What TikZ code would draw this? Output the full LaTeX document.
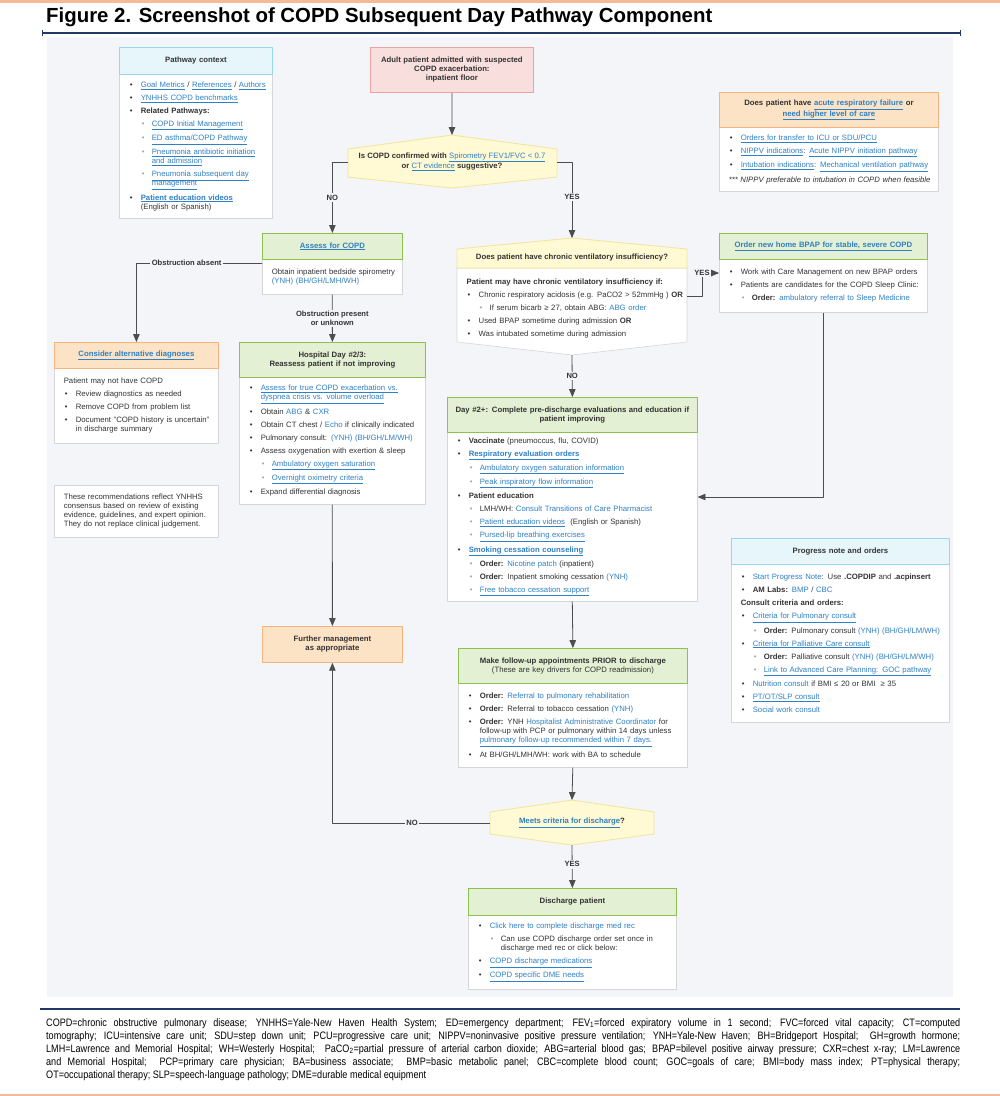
\documentclass[tikz,border=0pt]{standalone}
\usepackage{fontspec}
\setmainfont{Liberation Sans}
\newfontfamily\narrowfont[FakeStretch=0.84]{Liberation Sans}
\usetikzlibrary{arrows,calc}
\usepackage{xcolor}
\definecolor{panelbg}{HTML}{F3F5F8}
\definecolor{navy}{HTML}{1F3A68}
\definecolor{salmon}{HTML}{F6B99A}
\definecolor{txt}{HTML}{333333}
\definecolor{lnkblue}{HTML}{2F80C5}
\definecolor{subgray}{HTML}{A6A6A6}
\definecolor{bodyline}{HTML}{D6D6D6}
\definecolor{connline}{HTML}{4D4D4D}
\definecolor{grnfill}{HTML}{E3F0D3}
\definecolor{grnline}{HTML}{8CC152}
\definecolor{orgfill}{HTML}{FCE3C6}
\definecolor{orgline}{HTML}{F5B37D}
\definecolor{cyanfill}{HTML}{E6F6FB}
\definecolor{cyanline}{HTML}{96D7EE}
\definecolor{pinkfill}{HTML}{F9DEDE}
\definecolor{pinkline}{HTML}{E9A3A3}
\definecolor{yelfill}{HTML}{FFF9D4}
\definecolor{yelline}{HTML}{F2E49A}

\newcommand{\bdfont}{\fontsize{7.75}{9}\selectfont}
\newcommand{\hdfont}{\fontsize{7.75}{9}\selectfont\bfseries}
\newcommand{\lblfont}{\fontsize{7.6}{9}\selectfont\bfseries}
\newcommand{\ftfont}{\narrowfont\fontsize{10.8}{13}\selectfont}
\newcommand{\lnk}[1]{{\color{lnkblue}\underline{#1}}}
\newcommand{\blu}[1]{{\color{lnkblue}#1}}
\newcommand{\bstart}{\leftskip=9.5pt\rightskip=0pt plus 1fil\parskip=4pt\relax}
\newcommand{\fitm}{\leavevmode\hangindent=12pt\hangafter=1\hbox to 12pt{\hskip1pt\textbullet\hfil}}
\newcommand{\itm}{\par\fitm}
\newcommand{\fsitm}{\leavevmode\hangindent=23pt\hangafter=1\hbox to 23pt{\hskip13pt{\color{subgray}\textbullet}\hfil}}
\newcommand{\sitm}{\par\fsitm}

\begin{document}
\begin{tikzpicture}[x=1pt,y=-1pt,>=triangle 45,line join=round,
  conn/.style={draw=connline,line width=0.8pt},
  sz/.style 2 args={text width=#1pt,minimum width=#1pt,minimum height=#2pt},
  hd/.style={anchor=north west,inner sep=0pt,align=center,font=\hdfont,text=txt,line width=0.8pt},
  bd/.style={anchor=north west,draw=bodyline,fill=white,inner sep=0pt,align=left,font=\bdfont,text=txt,line width=0.6pt},
  greenhd/.style={hd,draw=grnline,fill=grnfill},
  orangehd/.style={hd,draw=orgline,fill=orgfill},
  cyanhd/.style={hd,draw=cyanline,fill=cyanfill},
  pinkhd/.style={hd,draw=pinkline,fill=pinkfill},
  decfill/.style={fill=yelfill,draw=yelline,line width=0.8pt},
  dectext/.style={inner sep=0pt,align=center,font=\hdfont,text=txt},
  lbl/.style={inner sep=1.5pt,fill=panelbg,font=\lblfont,text=txt},
  foot/.style={anchor=base west,inner sep=0pt,font=\ftfont,text=black}]
\useasboundingbox (0,0) rectangle (1000,1096);
\fill[salmon] (0,0) rectangle (1000,2.5);
\fill[salmon] (0,1093.5) rectangle (1000,1096);
\node[anchor=base west,inner sep=0pt,font=\fontsize{20.4}{22}\selectfont\bfseries] (title) at (46,22) {Figure 2. Screenshot of COPD Subsequent Day Pathway Component};
\draw[navy,line width=1.4pt] (42,33) -- (960,33);
\draw[navy,line width=1pt] (42,30) -- (42,36);
\draw[navy,line width=1pt] (960,30) -- (960,36);
\fill[panelbg] (47,37) rectangle (953,997);
\draw[navy,line width=2.2pt] (40,1009) -- (960,1009);

\node[bd,sz={153}{144}] (ctxbody) at (119,74) {\bstart\fitm\lnk{Goal Metrics} / \lnk{References} / \lnk{Authors}
\itm\lnk{YNHHS COPD benchmarks}
\itm\textbf{Related Pathways:}
\sitm\lnk{COPD Initial Management}
\sitm\lnk{ED asthma/COPD Pathway}
\sitm\lnk{Pneumonia antibiotic initiation}\newline\lnk{and admission}
\sitm\lnk{Pneumonia subsequent day}\newline\lnk{management}
\itm\textbf{\lnk{Patient education videos}}\newline(English or Spanish)\par};
\node[cyanhd,sz={153}{27}] (ctxhead) at (119,47) {Pathway context};

\node[pinkhd,sz={163}{45}] (start) at (370,47) {Adult patient admitted with suspected\\COPD exacerbation:\\inpatient floor};

\filldraw[decfill] (452,135) -- (557,149) -- (557,177) -- (452,188) -- (348,177) -- (348,149) -- cycle;
\node[dectext] (dec1) at (452,162) {Is COPD confirmed with \lnk{\mdseries Spirometry FEV1/FVC < 0.7}\\or \lnk{\mdseries CT evidence} suggestive?};
\coordinate (dec1n) at (452,135);
\coordinate (dec1w) at (348,162);
\coordinate (dec1e) at (557,162);

\node[bd,sz={219}{64}] (acutebody) at (719,127) {\bstart\fitm\lnk{Orders for transfer to ICU or SDU/PCU}
\itm\lnk{NIPPV indications}: \lnk{Acute NIPPV initiation pathway}
\itm\lnk{Intubation indications}: \lnk{Mechanical ventilation pathway}
\par\textit{*** NIPPV preferable to intubation in COPD when feasible}\par};
\node[orangehd,sz={219}{35}] (acutehead) at (719,92) {Does patient have \lnk{acute respiratory failure} or\\\lnk{need higher level of care}};

\node[bd,sz={140}{35}] (assessbody) at (262,259) {\bstart Obtain inpatient bedside spirometry\newline\blu{(YNH) (BH/GH/LMH/WH)}\par};
\node[greenhd,sz={140}{26}] (assesshead) at (262,233) {\lnk{Assess for COPD}};

\node[bd,sz={164}{75}] (considerbody) at (54,368) {\bstart Patient may not have COPD
\itm Review diagnostics as needed
\itm Remove COPD from problem list
\itm Document "COPD history is uncertain"\newline in discharge summary\par};
\node[orangehd,sz={164}{26}] (considerhead) at (54,342) {\lnk{Consider alternative diagnoses}};

\node[bd,sz={186}{127}] (hospbody) at (239,377) {\bstart\fitm\lnk{Assess for true COPD exacerbation vs.}\newline\lnk{dyspnea crisis vs. volume overload}
\itm Obtain \blu{ABG} \& \blu{CXR}
\itm Obtain CT chest / \blu{Echo} if clinically indicated
\itm Pulmonary consult: \blu{(YNH) (BH/GH/LM/WH)}
\itm Assess oxygenation with exertion \& sleep
\sitm\lnk{Ambulatory oxygen saturation}
\sitm\lnk{Overnight oximetry criteria}
\itm Expand differential diagnosis\par};
\node[greenhd,sz={186}{35}] (hosphead) at (239,342) {Hospital Day \#2/3:\\Reassess patient if not improving};

\node[bd,sz={164}{52}] (note) at (54,485) {\bstart These recommendations reflect YNHHS\newline consensus based on review of existing\newline evidence, guidelines, and expert opinion.\newline They do not replace clinical judgement.\par};

\node[orangehd,sz={140}{36}] (further) at (262,626) {Further management\\as appropriate};

\filldraw[fill=white,draw=bodyline,line width=0.6pt] (457,268) -- (687,268) -- (687,342) -- (572,355) -- (457,342) -- cycle;
\filldraw[decfill] (457,249) -- (572,238) -- (687,249) -- (687,268) -- (457,268) -- cycle;
\node[dectext] (cvihead) at (572,257) {Does patient have chronic ventilatory insufficiency?};
\node[anchor=north west,inner sep=0pt,text width=230pt,align=left,font=\bdfont,text=txt] (cvibody) at (457,279) {\bstart\textbf{Patient may have chronic ventilatory insufficiency if:}
\itm Chronic respiratory acidosis (e.g. PaCO2 > 52mmHg ) \textbf{OR}
\sitm If serum bicarb ≥ 27, obtain ABG: \blu{ABG order}
\itm Used BPAP sometime during admission \textbf{OR}
\itm Was intubated sometime during admission\par};
\coordinate (cvin) at (572,238);
\coordinate (cvis) at (572,355);
\coordinate (cvie) at (687,296);
\coordinate (cviyes) at (702,273);

\node[bd,sz={208}{53}] (bpapbody) at (719,259) {\bstart\fitm Work with Care Management on new BPAP orders
\itm Patients are candidates for the COPD Sleep Clinic:
\sitm\textbf{Order:} \blu{ambulatory referral to Sleep Medicine}\par};
\node[greenhd,sz={208}{26}] (bpaphead) at (719,233) {\lnk{Order new home BPAP for stable, severe COPD}};

\node[bd,sz={250}{169}] (day2body) at (447,432) {\bstart\fitm\textbf{Vaccinate} (pneumoccus, flu, COVID)
\itm\textbf{\lnk{Respiratory evaluation orders}}
\sitm\lnk{Ambulatory oxygen saturation information}
\sitm\lnk{Peak inspiratory flow information}
\itm\textbf{Patient education}
\sitm LMH/WH: \blu{Consult Transitions of Care Pharmacist}
\sitm\lnk{Patient education videos}\ \ (English or Spanish)
\sitm\lnk{Pursed-lip breathing exercises}
\itm\textbf{\lnk{Smoking cessation counseling}}
\sitm\textbf{Order:} \blu{Nicotine patch} (inpatient)
\sitm\textbf{Order:} Inpatient smoking cessation \blu{(YNH)}
\sitm\lnk{Free tobacco cessation support}\par};
\node[greenhd,sz={250}{35}] (day2head) at (447,397) {Day \#2+: Complete pre-discharge evaluations and education if\\patient improving};

\node[bd,sz={218}{158}] (progbody) at (731,564) {\bstart\fitm\blu{Start Progress Note}: Use \textbf{.COPDIP} and \textbf{.acpinsert}
\itm\textbf{AM Labs:} \blu{BMP} / \blu{CBC}
\par\textbf{Consult criteria and orders:}
\itm\lnk{Criteria for Pulmonary consult}
\sitm\textbf{Order:} Pulmonary consult \blu{(YNH) (BH/GH/LM/WH)}
\itm\lnk{Criteria for Palliative Care consult}
\sitm\textbf{Order:} Palliative consult \blu{(YNH) (BH/GH/LM/WH)}
\sitm\lnk{Link to Advanced Care Planning: GOC pathway}
\itm\blu{Nutrition consult} if BMI ≤ 20 or BMI \ ≥ 35
\itm\lnk{PT/OT/SLP consult}
\itm\blu{Social work consult}\par};
\node[cyanhd,sz={218}{26}] (proghead) at (731,538) {Progress note and orders};

\node[bd,sz={229}{84}] (fupbody) at (458,683) {\bstart\fitm\textbf{Order:} \blu{Referral to pulmonary rehabilitation}
\itm\textbf{Order:} Referral to tobacco cessation \blu{(YNH)}
\itm\textbf{Order:} YNH \blu{Hospitalist Administrative Coordinator} for\newline follow-up with PCP or pulmonary within 14 days unless\newline\lnk{pulmonary follow-up recommended within 7 days.}
\itm At BH/GH/LMH/WH: work with BA to schedule\par};
\node[greenhd,sz={229}{35}] (fuphead) at (458,648) {Make follow-up appointments PRIOR to discharge\\{\mdseries (These are key drivers for COPD readmission)}};

\filldraw[decfill] (572,800) -- (654,812) -- (654,834) -- (572,845) -- (490,834) -- (490,812) -- cycle;
\node[dectext] (dec2) at (572,823) {\lnk{Meets criteria for discharge}?};
\coordinate (dec2n) at (572,800);
\coordinate (dec2s) at (572,845);
\coordinate (dec2w) at (490,823);

\node[bd,sz={208}{74}] (disbody) at (468,915) {\bstart\fitm\blu{Click here to complete discharge med rec}
\sitm Can use COPD discharge order set once in\newline discharge med rec or click below:
\itm\lnk{COPD discharge medications}
\itm\lnk{COPD specific DME needs}\par};
\node[greenhd,sz={208}{27}] (dishead) at (468,888) {Discharge patient};

\draw[conn,->] (start.south) -- (dec1n);
\draw[conn,->] (dec1w) -| node[lbl,pos=0.75] (no1) {NO} (assesshead.north);
\draw[conn,->] (dec1e) -| node[lbl,pos=0.73] (yes1) {YES} (cvin);
\draw[conn,->] ($(assessbody.north west)+(0,4)$) -| node[lbl,pos=0.3] (absent) {Obstruction absent} (considerhead.north);
\draw[conn,->] (assessbody.south) -- node[lbl,align=center] (present) {Obstruction present\\or unknown} (hosphead.north);
\draw[conn,->] (hospbody.south) -- (further.north);
\draw[conn,->] (cvis) -- node[lbl] (no2) {NO} (day2head.north);
\draw[conn] (cvie) -| (cviyes);
\draw[conn,->] (cviyes) -- (cviyes -| bpapbody.west);
\node[lbl] (yes2) at (cviyes) {YES};
\draw[conn,->] (bpapbody.south) |- ($(day2body.north east)+(0,65)$);
\draw[conn,->] (day2body.south) -- (fuphead.north);
\draw[conn,->] (fupbody.south) -- (dec2n);
\draw[conn,->] (dec2w) -| node[lbl,pos=0.247] (no3) {NO} (further.south);
\draw[conn,->] (dec2s) -- node[lbl,pos=0.45] (yes3) {YES} (dishead.north);

\node[foot] (ft1) at (46,1026) {\makebox[914pt][s]{COPD=chronic obstructive pulmonary disease; YNHHS=Yale-New Haven Health System; ED=emergency department; FEV\textsubscript{1}=forced expiratory volume in 1 second; FVC=forced vital capacity; CT=computed}};
\node[foot] (ft2) at (46,1039) {\makebox[914pt][s]{tomography; ICU=intensive care unit; SDU=step down unit; PCU=progressive care unit; NIPPV=noninvasive positive pressure ventilation; YNH=Yale-New Haven; BH=Bridgeport Hospital;\ \ GH=growth hormone;}};
\node[foot] (ft3) at (46,1052) {\makebox[914pt][s]{LMH=Lawrence and Memorial Hospital; WH=Westerly Hospital;\ \ PaCO\textsubscript{2}=partial pressure of arterial carbon dioxide; ABG=arterial blood gas; BPAP=bilevel positive airway pressure; CXR=chest x-ray; LM=Lawrence}};
\node[foot] (ft4) at (46,1065) {\makebox[914pt][s]{and Memorial Hospital;\ \ PCP=primary care physician; BA=business associate;\ \ BMP=basic metabolic panel; CBC=complete blood count; GOC=goals of care; BMI=body mass index; PT=physical therapy;}};
\node[foot] (ft5) at (46,1078) {OT=occupational therapy; SLP=speech-language pathology; DME=durable medical equipment};
\end{tikzpicture}
\end{document}
